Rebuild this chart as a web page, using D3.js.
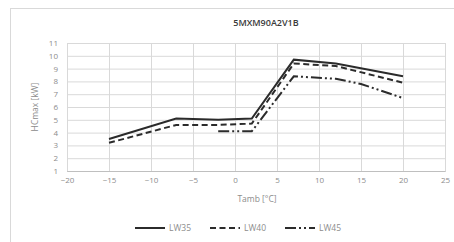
<!DOCTYPE html>
<html>
<head>
<meta charset="utf-8">
<script src="https://cdn.jsdelivr.net/npm/d3@7"></script>
<style>
  body { margin: 0; background: #fff; }
  text { font-family: "Open Sans", "Liberation Sans", sans-serif; }
</style>
</head>
<body>
<div id="chart"></div>
<script>
// data
var temps = [-15, -7, -2, 2, 7, 12, 15, 20];
var lw35 = [3.5, 5.1, 5.0, 5.1, 9.7, 9.4, null, 8.4];
var lw40 = [3.2, 4.6, 4.6, 4.7, 9.4, 9.2, null, 7.9];
var lw45 = [null, null, 4.1, 4.1, 8.4, 8.2, 7.8, 6.7];
var xTicks = [-20, -15, -10, -5, 0, 5, 10, 15, 20, 25];
var yTicks = [1, 2, 3, 4, 5, 6, 7, 8, 9, 10, 11];
var seriesNames = ["LW35", "LW40", "LW45"];

var svgWidth = 454, svgHeight = 242;
var margin = { top: 43, right: 9, bottom: 71, left: 67 };
var width = svgWidth - margin.left - margin.right;
var height = svgHeight - margin.top - margin.bottom;

var svg = d3.select("#chart").append("svg")
  .attr("width", svgWidth)
  .attr("height", svgHeight);

// chart frame
svg.append("rect")
  .attr("x", 10.5).attr("y", 8.5)
  .attr("width", 470).attr("height", 250)
  .attr("fill", "none")
  .attr("stroke", "#d9d9d9");

var chartGroup = svg.append("g")
  .attr("transform", `translate(${margin.left}, ${margin.top})`);

var xScale = d3.scaleLinear().domain([-20, 25]).range([0, width]);
var yScale = d3.scaleLinear().domain([1, 11]).range([height, 0]);

// gridlines
chartGroup.append("g")
  .call(d3.axisLeft(yScale).tickValues(yTicks).tickSize(-width).tickFormat(""))
  .call(g => g.select(".domain").remove())
  .call(g => g.selectAll("line").attr("stroke", "#d9d9d9"));

chartGroup.append("g")
  .attr("transform", `translate(0, ${height})`)
  .call(d3.axisBottom(xScale).tickValues(xTicks).tickSize(-height).tickFormat(""))
  .call(g => g.select(".domain").attr("stroke", "#bfbfbf"))
  .call(g => g.selectAll("line").attr("stroke", "#d9d9d9"));

// tick labels
var xAxis = chartGroup.append("g")
  .attr("transform", `translate(0, ${height})`)
  .call(d3.axisBottom(xScale).tickValues(xTicks).tickSize(0).tickPadding(6));
xAxis.select(".domain").remove();
xAxis.selectAll("text").attr("fill", "#8c8c8c").attr("font-size", "8px");

var yAxis = chartGroup.append("g")
  .call(d3.axisLeft(yScale).tickValues(yTicks).tickSize(0).tickPadding(9));
yAxis.select(".domain").remove();
yAxis.selectAll("text").attr("fill", "#8c8c8c").attr("font-size", "8px");

// lines
var styles = [
  { data: lw35, dash: null },
  { data: lw40, dash: "6,3.5" },
  { data: lw45, dash: "11,3,2,3,2,3" }
];

var line = d3.line()
  .x(d => xScale(d[0]))
  .y(d => yScale(d[1]));

styles.forEach(function(s) {
  var pts = temps.map((t, i) => [t, s.data[i]]).filter(d => d[1] !== null);
  chartGroup.append("path")
    .datum(pts)
    .attr("d", line)
    .attr("fill", "none")
    .attr("stroke", "#2b2b2b")
    .attr("stroke-width", 2)
    .attr("stroke-dasharray", s.dash);
});

// title
svg.append("text")
  .attr("x", 266).attr("y", 26)
  .attr("text-anchor", "middle")
  .attr("font-size", "9px")
  .attr("font-weight", 600)
  .attr("fill", "#3a3a3a")
  .text("5MXM90A2V1B");

// axis titles
svg.append("text")
  .attr("x", 257).attr("y", 202)
  .attr("text-anchor", "middle")
  .attr("font-size", "8.5px")
  .attr("fill", "#8c8c8c")
  .text("Tamb [°C]");

svg.append("text")
  .attr("transform", "translate(38, 107) rotate(-90)")
  .attr("text-anchor", "middle")
  .attr("font-size", "8.5px")
  .attr("fill", "#8c8c8c")
  .text("HCmax [kW]");

// legend
var legendX = [135, 210, 285];
seriesNames.forEach(function(name, i) {
  var g = svg.append("g").attr("transform", `translate(${legendX[i]}, 228)`);
  g.append("line")
    .attr("x1", 0).attr("x2", 30).attr("y1", 0).attr("y2", 0)
    .attr("stroke", "#2b2b2b")
    .attr("stroke-width", 2)
    .attr("stroke-dasharray", styles[i].dash);
  g.append("text")
    .attr("x", 34).attr("y", 3)
    .attr("font-size", "8.5px")
    .attr("fill", "#8c8c8c")
    .text(name);
});
</script>
</body>
</html>
